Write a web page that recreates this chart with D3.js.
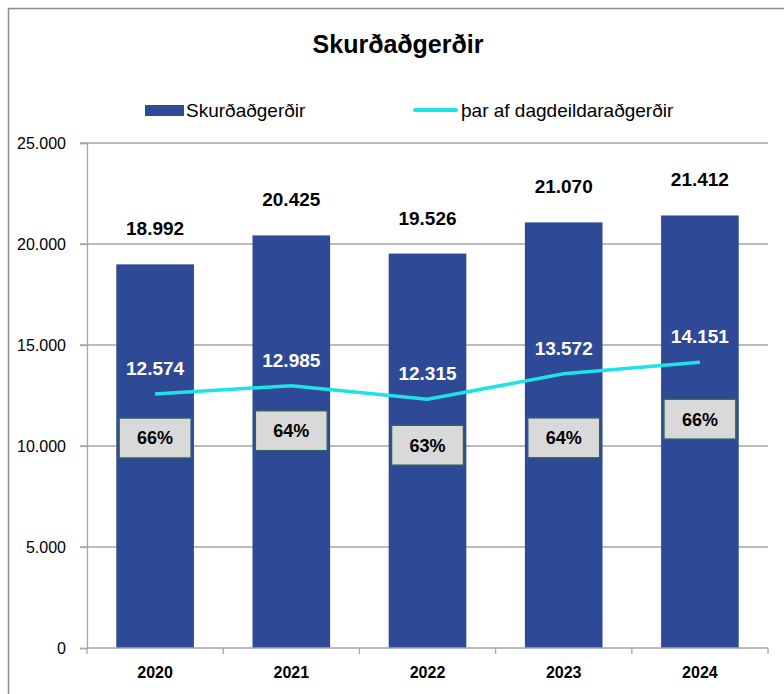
<!DOCTYPE html>
<html>
<head>
<meta charset="utf-8">
<script src="https://cdn.jsdelivr.net/npm/d3@7"></script>
<style>
  body { margin: 0; background: #fff; }
  svg { display: block; font-family: "Liberation Sans", Arial, sans-serif; }
</style>
</head>
<body>
<div id="chart"></div>
<script>
const years = ['2020', '2021', '2022', '2023', '2024'];
const surgeries = [18992, 20425, 19526, 21070, 21412];
const dayCase = [12574, 12985, 12315, 13572, 14151];
const yTicks = [0, 5000, 10000, 15000, 20000, 25000];

// where the % boxes sit below each line point (px)
const pctBoxOffset = [44, 45, 46, 64, 57];

const width = 784;
const height = 694;
const plot = { left: 87, right: 768, top: 143, bottom: 648 };

const fmt = d3.formatLocale({ decimal: ',', thousands: '.', grouping: [3], currency: ['', ''] }).format(',d');

const svg = d3.select('#chart')
  .append('svg')
  .attr('width', width)
  .attr('height', height);

// outer frame
svg.append('rect')
  .attr('x', 8.5).attr('y', 8.5)
  .attr('width', width).attr('height', height)
  .attr('fill', 'none')
  .attr('stroke', '#8c8c8c')
  .attr('stroke-width', 1.5);

const x = d3.scaleBand()
  .domain(years)
  .range([plot.left, plot.right])
  .paddingInner(0.43)
  .paddingOuter(0.215);

const y = d3.scaleLinear().domain([0, 25000]).range([plot.bottom, plot.top]);

// gridlines
svg.append('g')
  .selectAll('line')
  .data(yTicks.filter(d => d > 0))
  .join('line')
  .attr('x1', plot.left - 7).attr('x2', plot.right)
  .attr('y1', d => y(d)).attr('y2', d => y(d))
  .attr('stroke', '#a6a6a6')
  .attr('stroke-width', 1.3);

// y axis
const yAxis = svg.append('g')
  .attr('transform', `translate(${plot.left},0)`)
  .call(d3.axisLeft(y).tickValues(yTicks).tickFormat(fmt).tickSize(7).tickPadding(14));
yAxis.select('.domain').attr('stroke', '#a6a6a6').attr('stroke-width', 1.3);
yAxis.selectAll('.tick line').attr('stroke', '#a6a6a6').attr('stroke-width', 1.3);
yAxis.selectAll('text')
  .attr('font-family', '"Liberation Sans", Arial, sans-serif')
  .attr('font-size', 16).attr('fill', '#000');

// bars
svg.append('g')
  .selectAll('rect')
  .data(surgeries)
  .join('rect')
  .attr('x', (d, i) => x(years[i]))
  .attr('y', d => y(d))
  .attr('width', x.bandwidth())
  .attr('height', d => y(0) - y(d))
  .attr('fill', '#2e4a96');

// x axis
const xEdges = d3.range(years.length + 1).map(i => plot.left + i * (plot.right - plot.left) / years.length);
const xAxisG = svg.append('g');
xAxisG.append('line')
  .attr('x1', plot.left).attr('x2', plot.right)
  .attr('y1', plot.bottom).attr('y2', plot.bottom)
  .attr('stroke', '#a6a6a6').attr('stroke-width', 1.3);
xAxisG.selectAll('line.tk')
  .data(xEdges)
  .join('line')
  .attr('class', 'tk')
  .attr('x1', d => d).attr('x2', d => d)
  .attr('y1', plot.bottom).attr('y2', plot.bottom + 6)
  .attr('stroke', '#a6a6a6').attr('stroke-width', 1.3);
xAxisG.selectAll('text')
  .data(years)
  .join('text')
  .attr('x', d => x(d) + x.bandwidth() / 2)
  .attr('y', 678)
  .attr('text-anchor', 'middle')
  .attr('font-size', 16)
  .attr('font-weight', 'bold')
  .text(d => d);

// bar value labels
svg.append('g')
  .selectAll('text')
  .data(surgeries)
  .join('text')
  .attr('x', (d, i) => x(years[i]) + x.bandwidth() / 2)
  .attr('y', d => y(d) - 29)
  .attr('text-anchor', 'middle')
  .attr('font-size', 19)
  .attr('font-weight', 'bold')
  .attr('fill', '#000')
  .text(d => fmt(d));

// day-case line
const cx = i => x(years[i]) + x.bandwidth() / 2;
const line = d3.line().x((d, i) => cx(i)).y(d => y(d));
svg.append('path')
  .datum(dayCase)
  .attr('d', line)
  .attr('fill', 'none')
  .attr('stroke', '#1de3e6')
  .attr('stroke-width', 3.5);

svg.append('g')
  .selectAll('text')
  .data(dayCase)
  .join('text')
  .attr('x', (d, i) => cx(i))
  .attr('y', d => y(d) - 19)
  .attr('text-anchor', 'middle')
  .attr('font-size', 19)
  .attr('font-weight', 'bold')
  .attr('fill', '#fff')
  .text(d => fmt(d));

// share boxes
const pct = dayCase.map((d, i) => Math.round(d / surgeries[i] * 100) + '%');
const boxes = svg.append('g')
  .selectAll('g')
  .data(pct)
  .join('g')
  .attr('transform', (d, i) => `translate(${cx(i)},${y(dayCase[i]) + pctBoxOffset[i]})`);
boxes.append('rect')
  .attr('x', -36).attr('y', -20)
  .attr('width', 72).attr('height', 40)
  .attr('fill', '#d9d9d9')
  .attr('stroke', '#2f6262')
  .attr('stroke-width', 1.5);
boxes.append('text')
  .attr('text-anchor', 'middle')
  .attr('dy', '0.36em')
  .attr('font-size', 18)
  .attr('font-weight', 'bold')
  .text(d => d);

// title
svg.append('text')
  .attr('x', 398).attr('y', 53)
  .attr('text-anchor', 'middle')
  .attr('font-size', 25)
  .attr('font-weight', 'bold')
  .text('Skurðaðgerðir');

// legend
const legend = svg.append('g');
legend.append('rect')
  .attr('x', 145).attr('y', 105)
  .attr('width', 39).attr('height', 11)
  .attr('fill', '#2e4a96');
legend.append('text')
  .attr('x', 186).attr('y', 117)
  .attr('font-size', 19)
  .text('Skurðaðgerðir');
legend.append('line')
  .attr('x1', 415).attr('x2', 456)
  .attr('y1', 110).attr('y2', 110)
  .attr('stroke', '#1de3e6')
  .attr('stroke-width', 4)
  .attr('stroke-linecap', 'round');
legend.append('text')
  .attr('x', 461).attr('y', 117)
  .attr('font-size', 19)
  .text('þar af dagdeildaraðgerðir');
</script>
</body>
</html>
